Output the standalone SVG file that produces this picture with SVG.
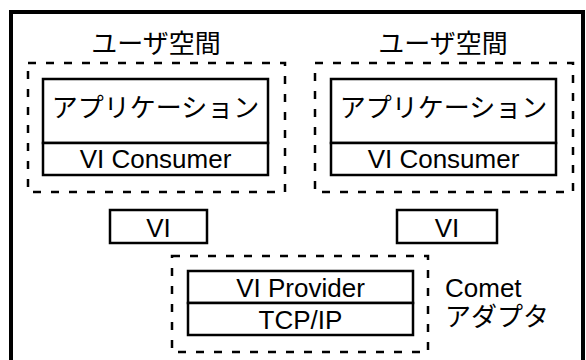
<svg xmlns="http://www.w3.org/2000/svg" width="586" height="360" viewBox="0 0 586 360">
<style>
.box{fill:#fff;stroke:#000;stroke-width:2.5}
.dash{fill:none;stroke:#000;stroke-width:2.5;stroke-dasharray:8 10}
.t{font-family:"Liberation Sans","Noto Sans CJK JP",sans-serif;font-size:26px;fill:#000}
.c{text-anchor:middle}
</style>
<rect x="0" y="0" width="586" height="360" fill="#fff"/>
<rect x="11" y="12" width="572" height="360" fill="none" stroke="#000" stroke-width="4"/>
<g id="user1">
<text class="t c" x="156" y="53">ユーザ空間</text>
<rect class="dash" x="28" y="63" width="257" height="129"/>
</g>
<g id="app1">
<rect class="box" x="43" y="79" width="225" height="64"/>
<text class="t c" x="155.5" y="117">アプリケーション</text>
</g>
<g id="consumer1">
<rect class="box" x="43" y="143" width="225" height="32"/>
<text class="t c" x="155.5" y="168">VI Consumer</text>
</g>
<g id="user2">
<text class="t c" x="443" y="53">ユーザ空間</text>
<rect class="dash" x="315" y="63" width="258" height="129"/>
</g>
<g id="app2">
<rect class="box" x="331" y="79" width="225" height="64"/>
<text class="t c" x="443.5" y="117">アプリケーション</text>
</g>
<g id="consumer2">
<rect class="box" x="331" y="143" width="225" height="32"/>
<text class="t c" x="443.5" y="168">VI Consumer</text>
</g>
<g id="vi1">
<rect class="box" x="110" y="210" width="97" height="33"/>
<text class="t c" x="158.5" y="237">VI</text>
</g>
<g id="vi2">
<rect class="box" x="397" y="210" width="100" height="33"/>
<text class="t c" x="447" y="237">VI</text>
</g>
<g id="comet">
<rect class="dash" x="172" y="256" width="256" height="96"/>
<text class="t" x="445" y="297">Comet</text>
<text class="t" x="445" y="326">アダプタ</text>
</g>
<g id="provider">
<rect class="box" x="188" y="271" width="225" height="32"/>
<text class="t c" x="300.5" y="297">VI Provider</text>
</g>
<g id="tcpip">
<rect class="box" x="188" y="303" width="225" height="32"/>
<text class="t c" x="300.5" y="329">TCP/IP</text>
</g>
<g id="connectors"></g>
</svg>
